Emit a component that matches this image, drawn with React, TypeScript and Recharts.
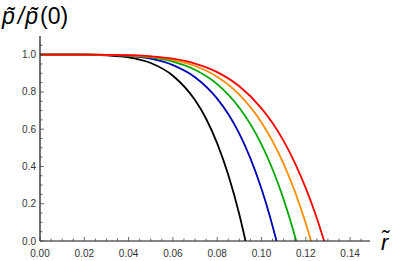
import React from 'react';
import { LineChart, Line, XAxis, YAxis } from 'recharts';

// radius values (r~) and normalised pressure
const rBlack = [0, 0.02, 0.03, 0.04, 0.05, 0.06, 0.07, 0.075, 0.08, 0.085, 0.09, 0.0928];
const pBlack = [1, 1, 0.996, 0.985, 0.955, 0.887, 0.756, 0.656, 0.524, 0.355, 0.142, 0];

const rBlue = [0, 0.02, 0.03, 0.04, 0.05, 0.06, 0.07, 0.08, 0.085, 0.09, 0.095, 0.1, 0.104, 0.1068];
const pBlue = [1, 1, 0.998, 0.993, 0.978, 0.944, 0.879, 0.764, 0.681, 0.576, 0.443, 0.28, 0.124, 0];

const rGreen = [0, 0.02, 0.03, 0.04, 0.05, 0.06, 0.07, 0.08, 0.09, 0.095, 0.1, 0.105, 0.11, 0.113, 0.1157];
const pGreen = [1, 1, 0.999, 0.995, 0.985, 0.963, 0.919, 0.842, 0.715, 0.627, 0.518, 0.385, 0.224, 0.111, 0];

const rOrange = [0, 0.02, 0.03, 0.04, 0.05, 0.06, 0.07, 0.08, 0.09, 0.1, 0.105, 0.11, 0.115, 0.119, 0.1224];
const pOrange = [1, 1, 0.999, 0.996, 0.989, 0.972, 0.939, 0.881, 0.785, 0.636, 0.536, 0.414, 0.268, 0.131, 0];

const rRed = [0, 0.02, 0.03, 0.04, 0.05, 0.06, 0.07, 0.08, 0.09, 0.1, 0.105, 0.11, 0.115, 0.12, 0.124, 0.1283];
const pRed = [1, 1, 0.999, 0.997, 0.991, 0.978, 0.952, 0.906, 0.83, 0.712, 0.633, 0.537, 0.421, 0.284, 0.157, 0];

const xMajorTicks = [0, 0.02, 0.04, 0.06, 0.08, 0.1, 0.12, 0.14];
const xMinorTicks = [0.005, 0.01, 0.015, 0.025, 0.03, 0.035, 0.045, 0.05, 0.055, 0.065, 0.07, 0.075,
    0.085, 0.09, 0.095, 0.105, 0.11, 0.115, 0.125, 0.13, 0.135, 0.145];
const yMajorTicks = [0, 0.2, 0.4, 0.6, 0.8, 1.0];
const yMinorTicks = [0.05, 0.1, 0.15, 0.25, 0.3, 0.35, 0.45, 0.5, 0.55, 0.65, 0.7, 0.75, 0.85, 0.9, 0.95, 1.05];

const toPoints = (rs: number[], ps: number[]) => rs.map((r, i) => ({ r, p: ps[i] }));

const series = [
    { name: 'black', color: '#000000', data: toPoints(rBlack, pBlack) },
    { name: 'blue', color: '#0000b4', data: toPoints(rBlue, pBlue) },
    { name: 'green', color: '#00a800', data: toPoints(rGreen, pGreen) },
    { name: 'orange', color: '#ff8c00', data: toPoints(rOrange, pOrange) },
    { name: 'red', color: '#ff0000', data: toPoints(rRed, pRed) },
];

const FONT = '"Liberation Sans", Arial, sans-serif';
const TICK_COLOR = '#444';
const LABEL_COLOR = '#333';

const XTick = (props: any) => {
    const { x, y, payload } = props;
    const major = xMajorTicks.includes(payload.value);
    return (
        <g>
            <line x1={x} x2={x} y1={y} y2={y - (major ? 4 : 2.5)} stroke={TICK_COLOR} strokeWidth={0.8} />
            {major && (
                <text x={x} y={y + 16} textAnchor="middle" fontSize={10} fontFamily={FONT} fill={LABEL_COLOR}>
                    {payload.value.toFixed(2)}
                </text>
            )}
        </g>
    );
};

const YTick = (props: any) => {
    const { x, y, payload } = props;
    const major = yMajorTicks.includes(payload.value);
    return (
        <g>
            <line x1={x} x2={x + (major ? 4 : 2.5)} y1={y} y2={y} stroke={TICK_COLOR} strokeWidth={0.8} />
            {major && (
                <text x={x - 4} y={y} dy="0.35em" textAnchor="end" fontSize={10} fontFamily={FONT} fill={LABEL_COLOR}>
                    {payload.value.toFixed(1)}
                </text>
            )}
        </g>
    );
};

const App: React.FC = () => {
    const xTicks = [...xMajorTicks, ...xMinorTicks].sort((a, b) => a - b);
    const yTicks = [...yMajorTicks, ...yMinorTicks].sort((a, b) => a - b);

    return (
        <div style={{ position: 'absolute', left: 0, top: 0, width: 407, height: 261, background: '#fff' }}>
            <LineChart width={407} height={261} margin={{ top: 36, right: 37, left: 0, bottom: 0 }}>
                <XAxis
                    type="number"
                    dataKey="r"
                    domain={[0, 0.149]}
                    ticks={xTicks}
                    interval={0}
                    tickSize={0}
                    tickMargin={0}
                    height={20}
                    allowDataOverflow
                    tick={<XTick />}
                    axisLine={{ stroke: '#111', strokeWidth: 1.2 }}
                />
                <YAxis
                    type="number"
                    dataKey="p"
                    domain={[0, 1.1]}
                    ticks={yTicks}
                    interval={0}
                    tickSize={0}
                    tickMargin={0}
                    width={40}
                    allowDataOverflow
                    tick={<YTick />}
                    axisLine={{ stroke: '#111', strokeWidth: 1.2 }}
                />
                {series.map(s => (
                    <Line
                        key={s.name}
                        data={s.data}
                        dataKey="p"
                        type="monotone"
                        stroke={s.color}
                        strokeWidth={1.8}
                        dot={false}
                        isAnimationActive={false}
                    />
                ))}
            </LineChart>
            <svg width={407} height={261} style={{ position: 'absolute', left: 0, top: 0, pointerEvents: 'none' }}>
                <text x={2} y={24} fontSize={23} fontFamily={FONT} fill="#000">
                    <tspan fontStyle="italic">p̃</tspan>
                    <tspan dx={3} fontStyle="italic">/</tspan>
                    <tspan dx={1} fontStyle="italic">p̃</tspan>
                    <tspan dx={2}>(0)</tspan>
                </text>
                <text x={381} y={250} fontSize={22} fontFamily={FONT} fontStyle="italic" fill="#000">
                    r̃
                </text>
            </svg>
        </div>
    );
};

export default App;
